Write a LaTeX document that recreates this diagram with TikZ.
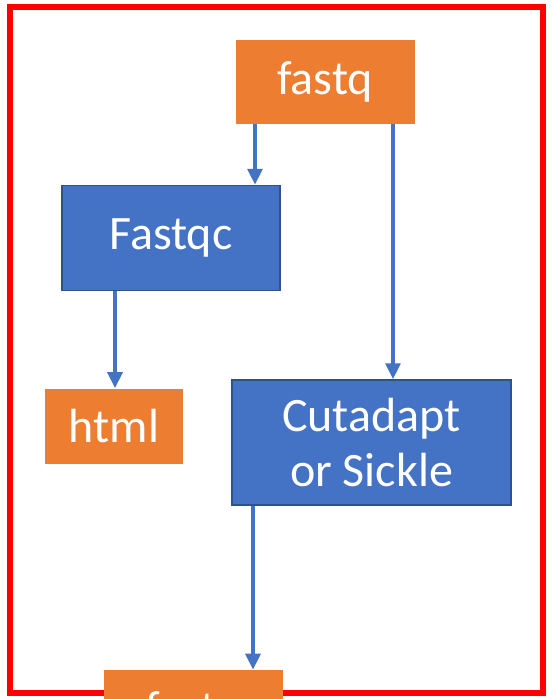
\documentclass[tikz,border=0pt]{standalone}
\usepackage{fontspec}
\setmainfont{Carlito}
\usepackage{tikz}
\usetikzlibrary{arrows.meta}
\usetikzlibrary{positioning}
\definecolor{boxorange}{HTML}{ED7D31}
\definecolor{boxblue}{HTML}{4472C4}
\definecolor{edgeblue}{HTML}{2F528F}

\tikzset{
  filebox/.style={fill=boxorange, text=white, inner sep=0pt, align=center,
    font=\fontsize{36}{41}\selectfont},
  toolbox/.style={fill=boxblue, draw=edgeblue, line width=1.1pt, text=white,
    inner sep=0pt, align=center, font=\fontsize{36}{41}\selectfont},
  flow/.style={draw=boxblue, line width=3pt,
    -{Triangle[width=11pt,length=12pt]}, shorten >=0pt}
}

\begin{document}
\begin{tikzpicture}[x=0.75pt, y=-0.75pt]

  \useasboundingbox (0,0) rectangle (552,699);

  % Frame
  \draw[red, line width=4pt] (10,7) rectangle (543,693);

  % Define nodes
  \node[filebox, minimum width=179*0.75pt, minimum height=83*0.75pt] (fastq) at (325,82) {fastq};
  \node[toolbox, minimum width=218*0.75pt, minimum height=105*0.75pt] (fastqc) at (171,238) {Fastqc};
  \node[filebox, minimum width=138*0.75pt, minimum height=75*0.75pt] (html) at (114,426) {html};
  \node[toolbox, minimum width=279*0.75pt, minimum height=125*0.75pt] (cutadapt) at (371.5,442.5) {Cutadapt\\or Sickle};
  \node[filebox, minimum width=179*0.75pt, minimum height=83*0.75pt] (trimmed) at (193.5,711.5) {fastq};

  % Arrow columns
  \coordinate (colA) at (255,0);
  \coordinate (colB) at (393,0);
  \coordinate (colC) at (115,0);
  \coordinate (colD) at (253,0);

  % Connect the nodes
  \draw[flow] (fastq.south -| colA) -- (fastqc.north -| colA);
  \draw[flow] (fastq.south -| colB) -- (cutadapt.north -| colB);
  \draw[flow] (fastqc.south -| colC) -- (html.north -| colC);
  \draw[flow] (cutadapt.south -| colD) -- (trimmed.north -| colD);

\end{tikzpicture}
\end{document}
